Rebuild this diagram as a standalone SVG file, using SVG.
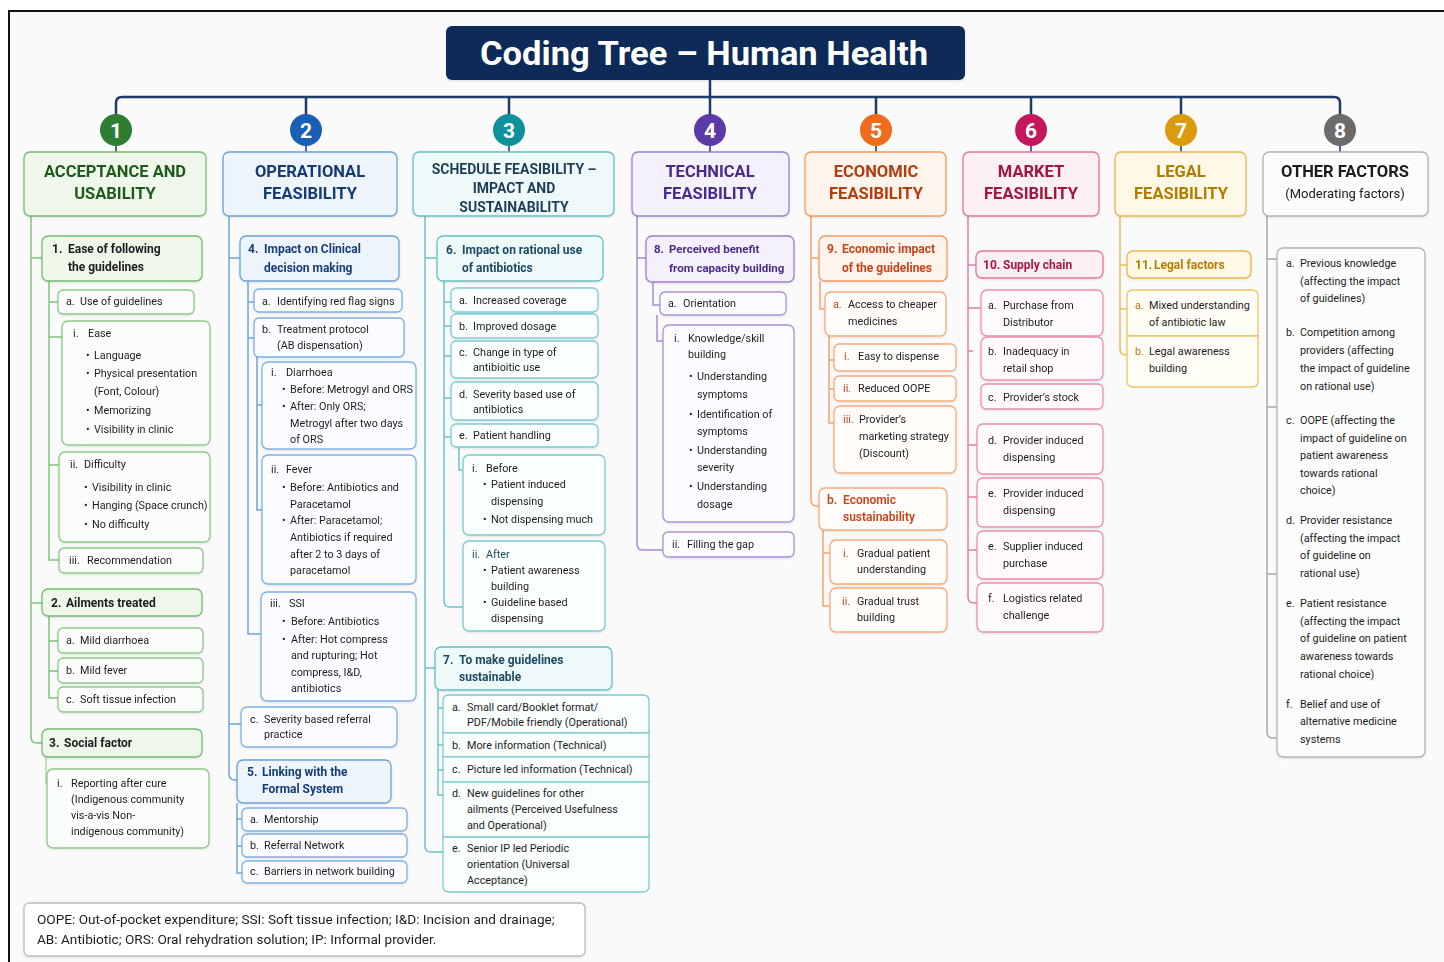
<svg xmlns="http://www.w3.org/2000/svg" width="1444" height="962" viewBox="0 0 1444 962">
<defs>
<style>
text{font-family:Roboto,"Liberation Sans",Arial,sans-serif;font-size:10.8px;fill:#1d1d1d}
.hd{font-size:12px;font-weight:700}
.cat{font-size:16.5px;font-weight:700;text-anchor:middle}
.num{font-size:21px;font-weight:700;fill:#fff;text-anchor:middle}
.c{fill:none;stroke-width:1.5}
rect,path.bx{stroke-width:1.3}
.gB{fill:#fbfdfa;stroke:#8dca8a}.gH{fill:#eef7ea;stroke:#72bd6f}.gC{stroke:#7fc27c}
.bB{fill:#fafcff;stroke:#7fb0e0}.bH{fill:#edf4fc;stroke:#6aa2da}.bC{stroke:#6fa5da}
.tB{fill:#fafefe;stroke:#7ccbd0}.tH{fill:#eef9fa;stroke:#62c0c6}.tC{stroke:#6cc3c9}
.pB{fill:#fcfbff;stroke:#a993d8}.pH{fill:#f4f0fc;stroke:#9a80d0}.pC{stroke:#a48cd6}
.oB{fill:#fffcfa;stroke:#f6ab78}.oH{fill:#fff4ec;stroke:#f49a5e}.oC{stroke:#f5a36b}
.mB{fill:#fffbfc;stroke:#ec8fb0}.mH{fill:#fdf0f4;stroke:#e2779d}.mC{stroke:#e47fa4}
.yB{fill:#fffdf6;stroke:#ecc363}.yH{fill:#fff8e6;stroke:#e8b84a}.yC{stroke:#e9bd58}
.kB{fill:#fcfcfc;stroke:#b3b3b3}.kC{stroke:#a8a8a8}
.gT{fill:#1f5a1f}.bT{fill:#163d78}.tT{fill:#1d4a63}.pT{fill:#4b2c8a}.oT{fill:#c9431a}.mT{fill:#ad1446}.yT{fill:#b37e00}
.cg{fill:#1f5a1f}.cb{fill:#163a72}.ct{fill:#1e3d55}.cp{fill:#4a2c87}.co{fill:#b23c0f}.cm{fill:#a3123e}.cy{fill:#b07d00}.ck{fill:#1a1a1a}
</style>
<filter id="sh" x="-10%" y="-10%" width="120%" height="130%">
<feDropShadow dx="0" dy="1" stdDeviation="1.2" flood-color="#000" flood-opacity="0.10"/>
</filter>
<linearGradient id="fadeG" x1="0" x2="1" y1="0" y2="0">
<stop offset="0" stop-color="#7fc27c"/><stop offset="1" stop-color="#7fc27c" stop-opacity="0"/>
</linearGradient>
</defs>

<!-- page background and frame -->
<rect x="0" y="0" width="1444" height="962" fill="#ffffff" stroke="none"/>
<rect x="9" y="11" width="1435" height="951" fill="#fafafb" stroke="none"/>
<path d="M9,962 V11 H1444" fill="none" stroke="#111" stroke-width="2"/>

<!-- connectors -->
<g id="connectors">
  <g fill="none" stroke="#1e3a66" stroke-width="2.5">
    <path d="M116,115 V103 Q116,97 122,97 H1334 Q1340,97 1340,103 V115"/>
    <path d="M710,80 V115"/>
    <path d="M306,97 V115 M509,97 V115 M876,97 V115 M1031,97 V115 M1181,97 V115"/>
    <path d="M116,145 V152 M306,145 V152 M509,145 V152 M710,145 V152 M876,145 V152 M1031,145 V152 M1181,145 V152 M1340,145 V152" stroke-width="1.5"/>
  </g>
  <!-- acceptance and usability -->
  <g class="c gC">
    <path d="M31,216 V737 Q31,743 37,743 H42"/>
    <path d="M31,258 H42 M31,603 H42"/>
    <path d="M49,281 V560 H59 M49,302 H58 M49,337 H62 M49,465 H59"/>
    <path d="M49,616 V698 H58 M49,641 H58 M49,671 H58"/>
    <path d="M46,757 V783 H47" stroke-opacity="0.6"/>
  </g>
  <path d="M31,224 H130" stroke="url(#fadeG)" stroke-width="1.5" fill="none"/>
  <!-- operational feasibility -->
  <g class="c bC">
    <path d="M229,216 V774 Q229,780 235,780 H237"/>
    <path d="M229,258 H240 M229,724 H241"/>
    <path d="M248,281 V634 H261 M248,302 H254 M248,338 H254"/>
    <path d="M257,357 V510 H262 M257,405 H262"/>
    <path d="M237,803 V873 H242 M237,819 H242 M237,846 H242"/>
  </g>
  <!-- schedule feasibility -->
  <g class="c tC">
    <path d="M425,216 V846 Q425,852 431,852 H443"/>
    <path d="M425,258 H437 M425,668 H435"/>
    <path d="M444,281 V601 Q444,607 450,607 H463 M444,302 H451 M444,326 H451 M444,356 H451 M444,398 H451 M444,437 H451"/>
    <path d="M459,447 V470 H463"/>
    <path d="M438,690 V795 H443 M438,708 H443 M438,745 H443 M438,770 H443"/>
  </g>
  <!-- technical feasibility -->
  <g class="c pC">
    <path d="M637,216 V544 Q637,550 643,550 H663"/>
    <path d="M637,258 H646"/>
    <path d="M653,282 V305 H660"/>
    <path d="M657,315 V341 H663"/>
  </g>
  <!-- economic feasibility -->
  <g class="c oC">
    <path d="M811,216 V500 Q811,506 817,506 H819"/>
    <path d="M811,258 H819"/>
    <path d="M820,281 V309 H825"/>
    <path d="M829,336 V423 H834 M829,360 H834 M829,389 H834"/>
    <path d="M823,530 V606 H830 M823,553 H830"/>
  </g>
  <!-- market feasibility -->
  <g class="c mC">
    <path d="M968,216 V597 Q968,603 974,603 H977"/>
    <path d="M968,265 H976 M968,308 H981 M968,351 H973 M968,445 H977 M968,497 H977 M968,550 H977"/>
  </g>
  <!-- legal feasibility -->
  <g class="c yC">
    <path d="M1120,216 V349 Q1120,355 1126,355 H1127"/>
    <path d="M1120,265 H1127 M1120,309 H1127"/>
  </g>
  <!-- other factors -->
  <g class="c kC">
    <path d="M1267,216 V732 Q1267,738 1273,738 H1277"/>
    <path d="M1267,259 H1277 M1267,407 H1277 M1267,574 H1277"/>
  </g>
</g>

<!-- title -->
<g id="title">
  <rect x="446" y="26" width="519" height="54" rx="6" fill="#0c2a58" stroke="none" filter="url(#sh)"/>
  <text x="480" y="65" textLength="448" lengthAdjust="spacingAndGlyphs" style="font-size:33px;font-weight:700;fill:#ffffff">Coding Tree – Human Health</text>
</g>

<!-- numbered markers -->
<g id="markers">
  <circle cx="116" cy="130" r="16" fill="#2e7d32"/><text class="num" x="116" y="138">1</text>
  <circle cx="306" cy="130" r="16" fill="#1a5fb4"/><text class="num" x="306" y="138">2</text>
  <circle cx="509" cy="130" r="16" fill="#0f9199"/><text class="num" x="509" y="138">3</text>
  <circle cx="710" cy="130" r="16" fill="#5e3aa8"/><text class="num" x="710" y="138">4</text>
  <circle cx="876" cy="130" r="16" fill="#f06b1c"/><text class="num" x="876" y="138">5</text>
  <circle cx="1031" cy="130" r="16" fill="#c4185a"/><text class="num" x="1031" y="138">6</text>
  <circle cx="1181" cy="130" r="16" fill="#dc9a0e"/><text class="num" x="1181" y="138">7</text>
  <circle cx="1340" cy="130" r="16" fill="#6b6b6b"/><text class="num" x="1340" y="138">8</text>
</g>

<!-- category headers -->
<g id="cat-1" filter="url(#sh)"><rect class="gH" x="24" y="152" width="182" height="64" rx="6"/>
  <text class="cat cg" x="115" y="177">ACCEPTANCE AND</text><text class="cat cg" x="115" y="199">USABILITY</text></g>
<g id="cat-2" filter="url(#sh)"><rect class="bH" x="223" y="152" width="174" height="64" rx="6"/>
  <text class="cat cb" x="310" y="177">OPERATIONAL</text><text class="cat cb" x="310" y="199">FEASIBILITY</text></g>
<g id="cat-3" filter="url(#sh)"><rect class="tH" x="413" y="152" width="201" height="64" rx="6"/>
  <text class="cat ct" x="514" y="174" style="font-size:14px">SCHEDULE FEASIBILITY –</text>
  <text class="cat ct" x="514" y="193" style="font-size:14px">IMPACT AND</text>
  <text class="cat ct" x="514" y="212" style="font-size:14px">SUSTAINABILITY</text></g>
<g id="cat-4" filter="url(#sh)"><rect class="pH" x="632" y="152" width="157" height="64" rx="6"/>
  <text class="cat cp" x="710" y="177">TECHNICAL</text><text class="cat cp" x="710" y="199">FEASIBILITY</text></g>
<g id="cat-5" filter="url(#sh)"><rect class="oH" x="805" y="152" width="141" height="64" rx="6"/>
  <text class="cat co" x="876" y="177">ECONOMIC</text><text class="cat co" x="876" y="199">FEASIBILITY</text></g>
<g id="cat-6" filter="url(#sh)"><rect class="mH" x="963" y="152" width="136" height="64" rx="6"/>
  <text class="cat cm" x="1031" y="177">MARKET</text><text class="cat cm" x="1031" y="199">FEASIBILITY</text></g>
<g id="cat-7" filter="url(#sh)"><rect class="yH" x="1115" y="152" width="131" height="64" rx="6"/>
  <text class="cat cy" x="1181" y="177">LEGAL</text><text class="cat cy" x="1181" y="199">FEASIBILITY</text></g>
<g id="cat-8" filter="url(#sh)"><rect class="kB" x="1263" y="152" width="165" height="64" rx="6"/>
  <text class="cat ck" x="1345" y="177">OTHER FACTORS</text><text class="ck" x="1345" y="198" text-anchor="middle" style="font-size:13px">(Moderating factors)</text></g>

<!-- 1. acceptance and usability -->
<g id="n1-1" filter="url(#sh)"><rect class="gH" x="42" y="236" width="160" height="45" rx="6"/>
  <text class="hd"><tspan x="52" y="253">1.</tspan><tspan x="68" y="253">Ease of following</tspan><tspan x="68" y="271">the guidelines</tspan></text></g>
<g id="n1-1a" filter="url(#sh)"><rect class="gB" x="58" y="290" width="136" height="24" rx="5"/>
  <text><tspan x="66" y="305">a.</tspan><tspan x="80" y="305">Use of guidelines</tspan></text></g>
<g id="n1-1a-i" filter="url(#sh)"><rect class="gB" x="62" y="321" width="148" height="124" rx="6"/>
  <text><tspan x="73" y="337">i.</tspan><tspan x="88" y="337">Ease</tspan>
  <tspan x="86" y="359">•</tspan><tspan x="94" y="359">Language</tspan>
  <tspan x="86" y="377">•</tspan><tspan x="94" y="377">Physical presentation</tspan>
  <tspan x="94" y="395">(Font, Colour)</tspan>
  <tspan x="86" y="414">•</tspan><tspan x="94" y="414">Memorizing</tspan>
  <tspan x="86" y="433">•</tspan><tspan x="94" y="433">Visibility in clinic</tspan></text></g>
<g id="n1-1a-ii" filter="url(#sh)"><rect class="gB" x="59" y="452" width="151" height="90" rx="6"/>
  <text><tspan x="70" y="468">ii.</tspan><tspan x="84" y="468">Difficulty</tspan>
  <tspan x="84" y="491">•</tspan><tspan x="92" y="491">Visibility in clinic</tspan>
  <tspan x="84" y="509">•</tspan><tspan x="92" y="509">Hanging (Space crunch)</tspan>
  <tspan x="84" y="528">•</tspan><tspan x="92" y="528">No difficulty</tspan></text></g>
<g id="n1-1a-iii" filter="url(#sh)"><rect class="gB" x="59" y="548" width="144" height="25" rx="5"/>
  <text><tspan x="69" y="564">iii.</tspan><tspan x="87" y="564">Recommendation</tspan></text></g>
<g id="n1-2" filter="url(#sh)"><rect class="gH" x="42" y="589" width="160" height="27" rx="6"/>
  <text class="hd"><tspan x="51" y="607">2.</tspan><tspan x="66" y="607">Ailments treated</tspan></text></g>
<g id="n1-2a" filter="url(#sh)"><rect class="gB" x="58" y="628" width="145" height="25" rx="5"/>
  <text><tspan x="66" y="644">a.</tspan><tspan x="80" y="644">Mild diarrhoea</tspan></text></g>
<g id="n1-2b" filter="url(#sh)"><rect class="gB" x="58" y="658" width="145" height="25" rx="5"/>
  <text><tspan x="66" y="674">b.</tspan><tspan x="80" y="674">Mild fever</tspan></text></g>
<g id="n1-2c" filter="url(#sh)"><rect class="gB" x="58" y="687" width="145" height="25" rx="5"/>
  <text><tspan x="66" y="703">c.</tspan><tspan x="80" y="703">Soft tissue infection</tspan></text></g>
<g id="n1-3" filter="url(#sh)"><rect class="gH" x="42" y="729" width="160" height="28" rx="6"/>
  <text class="hd"><tspan x="49" y="747">3.</tspan><tspan x="64" y="747">Social factor</tspan></text></g>
<g id="n1-3i" filter="url(#sh)"><rect class="gB" x="47" y="769" width="162" height="79" rx="6"/>
  <text><tspan x="57" y="787">i.</tspan><tspan x="71" y="787">Reporting after cure</tspan>
  <tspan x="71" y="803">(Indigenous community</tspan>
  <tspan x="71" y="819">vis-a-vis Non-</tspan>
  <tspan x="71" y="835">indigenous community)</tspan></text></g>

<!-- 2. operational feasibility -->
<g id="n2-4" filter="url(#sh)"><rect class="bH" x="240" y="236" width="159" height="45" rx="6"/>
  <text class="hd bT"><tspan x="248" y="253">4.</tspan><tspan x="264" y="253">Impact on Clinical</tspan><tspan x="264" y="272">decision making</tspan></text></g>
<g id="n2-4a" filter="url(#sh)"><rect class="bB" x="254" y="289" width="148" height="23" rx="5"/>
  <text><tspan x="262" y="305">a.</tspan><tspan x="277" y="305">Identifying red flag signs</tspan></text></g>
<g id="n2-4b" filter="url(#sh)"><rect class="bB" x="254" y="318" width="150" height="39" rx="5"/>
  <text><tspan x="262" y="333">b.</tspan><tspan x="277" y="333">Treatment protocol</tspan><tspan x="277" y="349">(AB dispensation)</tspan></text></g>
<g id="n2-4b-i" filter="url(#sh)"><rect class="bB" x="262" y="362" width="154" height="87" rx="6"/>
  <text><tspan x="271" y="376">i.</tspan><tspan x="286" y="376">Diarrhoea</tspan>
  <tspan x="282" y="393">•</tspan><tspan x="290" y="393">Before: Metrogyl and ORS</tspan>
  <tspan x="282" y="410">•</tspan><tspan x="290" y="410">After: Only ORS;</tspan>
  <tspan x="290" y="427">Metrogyl after two days</tspan>
  <tspan x="290" y="443">of ORS</tspan></text></g>
<g id="n2-4b-ii" filter="url(#sh)"><rect class="bB" x="262" y="455" width="154" height="129" rx="6"/>
  <text><tspan x="271" y="473">ii.</tspan><tspan x="286" y="473">Fever</tspan>
  <tspan x="282" y="491">•</tspan><tspan x="290" y="491">Before: Antibiotics and</tspan>
  <tspan x="290" y="508">Paracetamol</tspan>
  <tspan x="282" y="524">•</tspan><tspan x="290" y="524">After: Paracetamol;</tspan>
  <tspan x="290" y="541">Antibiotics if required</tspan>
  <tspan x="290" y="558">after 2 to 3 days of</tspan>
  <tspan x="290" y="574">paracetamol</tspan></text></g>
<g id="n2-4b-iii" filter="url(#sh)"><rect class="bB" x="261" y="592" width="155" height="109" rx="6"/>
  <text><tspan x="270" y="607">iii.</tspan><tspan x="289" y="607">SSI</tspan>
  <tspan x="282" y="625">•</tspan><tspan x="291" y="625">Before: Antibiotics</tspan>
  <tspan x="282" y="643">•</tspan><tspan x="291" y="643">After: Hot compress</tspan>
  <tspan x="291" y="659">and rupturing; Hot</tspan>
  <tspan x="291" y="676">compress, I&amp;D,</tspan>
  <tspan x="291" y="692">antibiotics</tspan></text></g>
<g id="n2-4c" filter="url(#sh)"><rect class="bB" x="241" y="707" width="156" height="40" rx="6"/>
  <text><tspan x="250" y="723">c.</tspan><tspan x="264" y="723">Severity based referral</tspan><tspan x="264" y="738">practice</tspan></text></g>
<g id="n2-5" filter="url(#sh)"><rect class="bH" x="237" y="760" width="154" height="43" rx="6"/>
  <text class="hd bT"><tspan x="247" y="776">5.</tspan><tspan x="262" y="776">Linking with the</tspan><tspan x="262" y="793">Formal System</tspan></text></g>
<g id="n2-5a" filter="url(#sh)"><rect class="bB" x="242" y="808" width="165" height="23" rx="5"/>
  <text><tspan x="250" y="823">a.</tspan><tspan x="264" y="823">Mentorship</tspan></text></g>
<g id="n2-5b" filter="url(#sh)"><rect class="bB" x="242" y="834" width="165" height="23" rx="5"/>
  <text><tspan x="250" y="849">b.</tspan><tspan x="264" y="849">Referral Network</tspan></text></g>
<g id="n2-5c" filter="url(#sh)"><rect class="bB" x="242" y="861" width="165" height="22" rx="5"/>
  <text><tspan x="250" y="875">c.</tspan><tspan x="264" y="875">Barriers in network building</tspan></text></g>

<!-- 3. schedule feasibility -->
<g id="n3-6" filter="url(#sh)"><rect class="tH" x="437" y="236" width="166" height="45" rx="6"/>
  <text class="hd tT"><tspan x="446" y="254">6.</tspan><tspan x="462" y="254">Impact on rational use</tspan><tspan x="462" y="272">of antibiotics</tspan></text></g>
<g id="n3-6a" filter="url(#sh)"><rect class="tB" x="451" y="288" width="147" height="24" rx="5"/>
  <text><tspan x="459" y="304">a.</tspan><tspan x="473" y="304">Increased coverage</tspan></text></g>
<g id="n3-6b" filter="url(#sh)"><rect class="tB" x="451" y="314" width="147" height="24" rx="5"/>
  <text><tspan x="459" y="330">b.</tspan><tspan x="473" y="330">Improved dosage</tspan></text></g>
<g id="n3-6c" filter="url(#sh)"><rect class="tB" x="451" y="341" width="147" height="37" rx="5"/>
  <text><tspan x="459" y="356">c.</tspan><tspan x="473" y="356">Change in type of</tspan><tspan x="473" y="371">antibioitic use</tspan></text></g>
<g id="n3-6d" filter="url(#sh)"><rect class="tB" x="451" y="382" width="147" height="38" rx="5"/>
  <text><tspan x="459" y="398">d.</tspan><tspan x="473" y="398">Severity based use of</tspan><tspan x="473" y="413">antibiotics</tspan></text></g>
<g id="n3-6e" filter="url(#sh)"><rect class="tB" x="451" y="424" width="147" height="23" rx="5"/>
  <text><tspan x="459" y="439">e.</tspan><tspan x="473" y="439">Patient handling</tspan></text></g>
<g id="n3-6e-i" filter="url(#sh)"><rect class="tB" x="463" y="455" width="142" height="80" rx="6"/>
  <text><tspan x="472" y="472">i.</tspan><tspan x="486" y="472">Before</tspan>
  <tspan x="483" y="488">•</tspan><tspan x="491" y="488">Patient induced</tspan>
  <tspan x="491" y="505">dispensing</tspan>
  <tspan x="483" y="523">•</tspan><tspan x="491" y="523">Not dispensing much</tspan></text></g>
<g id="n3-6e-ii" filter="url(#sh)"><rect class="tB" x="463" y="541" width="142" height="90" rx="6"/>
  <text><tspan x="472" y="558" class="tT">ii.</tspan><tspan x="486" y="558" class="tT">After</tspan>
  <tspan x="483" y="574">•</tspan><tspan x="491" y="574">Patient awareness</tspan>
  <tspan x="491" y="590">building</tspan>
  <tspan x="483" y="606">•</tspan><tspan x="491" y="606">Guideline based</tspan>
  <tspan x="491" y="622">dispensing</tspan></text></g>
<g id="n3-7" filter="url(#sh)"><rect class="tH" x="435" y="647" width="177" height="43" rx="6"/>
  <text class="hd tT"><tspan x="443" y="664">7.</tspan><tspan x="459" y="664">To make guidelines</tspan><tspan x="459" y="681">sustainable</tspan></text></g>
<g id="n3-7a"><path class="bx tB" d="M443,733 V701 Q443,695 449,695 H643 Q649,695 649,701 V733 Z"/>
  <text><tspan x="452" y="711">a.</tspan><tspan x="467" y="711">Small card/Booklet format/</tspan><tspan x="467" y="726">PDF/Mobile friendly (Operational)</tspan></text></g>
<g id="n3-7b"><rect class="tB" x="443" y="733" width="206" height="24"/>
  <text><tspan x="452" y="749">b.</tspan><tspan x="467" y="749">More information (Technical)</tspan></text></g>
<g id="n3-7c"><rect class="tB" x="443" y="757" width="206" height="25"/>
  <text><tspan x="452" y="773">c.</tspan><tspan x="467" y="773">Picture led information (Technical)</tspan></text></g>
<g id="n3-7d"><rect class="tB" x="443" y="782" width="206" height="55"/>
  <text><tspan x="452" y="797">d.</tspan><tspan x="467" y="797">New guidelines for other</tspan><tspan x="467" y="813">ailments (Perceived Usefulness</tspan><tspan x="467" y="829">and Operational)</tspan></text></g>
<g id="n3-7e"><path class="bx tB" d="M443,837 H649 V886 Q649,892 643,892 H449 Q443,892 443,886 Z"/>
  <text><tspan x="452" y="852">e.</tspan><tspan x="467" y="852">Senior IP led Periodic</tspan><tspan x="467" y="868">orientation (Universal</tspan><tspan x="467" y="884">Acceptance)</tspan></text></g>

<!-- 4. technical feasibility -->
<g id="n4-8" filter="url(#sh)"><rect class="pH" x="646" y="236" width="148" height="46" rx="6"/>
  <text class="hd pT" style="font-size:11.5px"><tspan x="654" y="253">8.</tspan><tspan x="669" y="253">Perceived benefit</tspan><tspan x="669" y="272">from capacity building</tspan></text></g>
<g id="n4-8a" filter="url(#sh)"><rect class="pB" x="660" y="292" width="126" height="23" rx="5"/>
  <text><tspan x="668" y="307">a.</tspan><tspan x="683" y="307">Orientation</tspan></text></g>
<g id="n4-8a-i" filter="url(#sh)"><rect class="pB" x="663" y="325" width="131" height="197" rx="6"/>
  <text><tspan x="674" y="342">i.</tspan><tspan x="688" y="342">Knowledge/skill</tspan><tspan x="688" y="358">building</tspan>
  <tspan x="689" y="380">•</tspan><tspan x="697" y="380">Understanding</tspan><tspan x="697" y="398">symptoms</tspan>
  <tspan x="689" y="418">•</tspan><tspan x="697" y="418">Identification of</tspan><tspan x="697" y="435">symptoms</tspan>
  <tspan x="689" y="454">•</tspan><tspan x="697" y="454">Understanding</tspan><tspan x="697" y="471">severity</tspan>
  <tspan x="689" y="490">•</tspan><tspan x="697" y="490">Understanding</tspan><tspan x="697" y="508">dosage</tspan></text></g>
<g id="n4-8a-ii" filter="url(#sh)"><rect class="pB" x="663" y="532" width="131" height="25" rx="5"/>
  <text><tspan x="672" y="548">ii.</tspan><tspan x="687" y="548">Filling the gap</tspan></text></g>

<!-- 5. economic feasibility -->
<g id="n5-9" filter="url(#sh)"><rect class="oH" x="819" y="236" width="128" height="45" rx="6"/>
  <text class="hd oT"><tspan x="827" y="253">9.</tspan><tspan x="842" y="253">Economic impact</tspan><tspan x="842" y="272">of the guidelines</tspan></text></g>
<g id="n5-9a" filter="url(#sh)"><rect class="oB" x="825" y="292" width="121" height="44" rx="6"/>
  <text><tspan x="833" y="308" class="oT">a.</tspan><tspan x="848" y="308">Access to cheaper</tspan><tspan x="848" y="325">medicines</tspan></text></g>
<g id="n5-9a-i" filter="url(#sh)"><rect class="oB" x="834" y="344" width="122" height="27" rx="5"/>
  <text><tspan x="844" y="360" class="oT">i.</tspan><tspan x="858" y="360">Easy to dispense</tspan></text></g>
<g id="n5-9a-ii" filter="url(#sh)"><rect class="oB" x="834" y="376" width="122" height="25" rx="5"/>
  <text><tspan x="843" y="392" class="oT">ii.</tspan><tspan x="858" y="392">Reduced OOPE</tspan></text></g>
<g id="n5-9a-iii" filter="url(#sh)"><rect class="oB" x="834" y="406" width="122" height="67" rx="6"/>
  <text><tspan x="843" y="423" class="oT">iii.</tspan><tspan x="859" y="423">Provider’s</tspan><tspan x="859" y="440">marketing strategy</tspan><tspan x="859" y="457">(Discount)</tspan></text></g>
<g id="n5-9b" filter="url(#sh)"><rect class="oB" x="819" y="488" width="128" height="42" rx="6"/>
  <text class="hd oT" style="font-weight:600"><tspan x="827" y="504">b.</tspan><tspan x="843" y="504">Economic</tspan><tspan x="843" y="521">sustainability</tspan></text></g>
<g id="n5-9b-i" filter="url(#sh)"><rect class="oB" x="830" y="540" width="117" height="44" rx="6"/>
  <text><tspan x="843" y="557" class="oT">i.</tspan><tspan x="857" y="557">Gradual patient</tspan><tspan x="857" y="573">understanding</tspan></text></g>
<g id="n5-9b-ii" filter="url(#sh)"><rect class="oB" x="830" y="588" width="117" height="44" rx="6"/>
  <text><tspan x="842" y="605" class="oT">ii.</tspan><tspan x="857" y="605">Gradual trust</tspan><tspan x="857" y="621">building</tspan></text></g>

<!-- 6. market feasibility -->
<g id="n6-10" filter="url(#sh)"><rect class="mH" x="976" y="251" width="127" height="27" rx="6"/>
  <text class="hd mT"><tspan x="983" y="269">10.</tspan><tspan x="1003" y="269">Supply chain</tspan></text></g>
<g id="n6-10a" filter="url(#sh)"><rect class="mB" x="981" y="290" width="122" height="46" rx="6"/>
  <text><tspan x="988" y="309">a.</tspan><tspan x="1003" y="309">Purchase from</tspan><tspan x="1003" y="326">Distributor</tspan></text></g>
<g id="n6-10b" filter="url(#sh)"><rect class="mB" x="981" y="337" width="122" height="43" rx="6"/>
  <text><tspan x="988" y="355">b.</tspan><tspan x="1003" y="355">Inadequacy in</tspan><tspan x="1003" y="372">retail shop</tspan></text></g>
<g id="n6-10c" filter="url(#sh)"><rect class="mB" x="981" y="384" width="122" height="25" rx="5"/>
  <text><tspan x="988" y="401">c.</tspan><tspan x="1003" y="401">Provider’s stock</tspan></text></g>
<g id="n6-10d" filter="url(#sh)"><rect class="mB" x="977" y="424" width="126" height="50" rx="6"/>
  <text><tspan x="988" y="444">d.</tspan><tspan x="1003" y="444">Provider induced</tspan><tspan x="1003" y="461">dispensing</tspan></text></g>
<g id="n6-10e" filter="url(#sh)"><rect class="mB" x="977" y="478" width="126" height="49" rx="6"/>
  <text><tspan x="988" y="497">e.</tspan><tspan x="1003" y="497">Provider induced</tspan><tspan x="1003" y="514">dispensing</tspan></text></g>
<g id="n6-10e2" filter="url(#sh)"><rect class="mB" x="977" y="531" width="126" height="48" rx="6"/>
  <text><tspan x="988" y="550">e.</tspan><tspan x="1003" y="550">Supplier induced</tspan><tspan x="1003" y="567">purchase</tspan></text></g>
<g id="n6-10f" filter="url(#sh)"><rect class="mB" x="977" y="583" width="126" height="49" rx="6"/>
  <text><tspan x="988" y="602">f.</tspan><tspan x="1003" y="602">Logistics related</tspan><tspan x="1003" y="619">challenge</tspan></text></g>

<!-- 7. legal feasibility -->
<g id="n7-11" filter="url(#sh)"><rect class="yH" x="1127" y="251" width="124" height="27" rx="6"/>
  <text class="hd yT"><tspan x="1135" y="269">11.</tspan><tspan x="1154" y="269">Legal factors</tspan></text></g>
<g id="n7-11a"><path class="bx yB" d="M1127,336 V296 Q1127,290 1133,290 H1252 Q1258,290 1258,296 V336 Z"/>
  <text><tspan x="1135" y="309" class="yT">a.</tspan><tspan x="1149" y="309">Mixed understanding</tspan><tspan x="1149" y="326">of antibiotic law</tspan></text></g>
<g id="n7-11b"><path class="bx yB" d="M1127,336 H1258 V381 Q1258,387 1252,387 H1133 Q1127,387 1127,381 Z"/>
  <text><tspan x="1135" y="355" class="yT">b.</tspan><tspan x="1149" y="355">Legal awareness</tspan><tspan x="1149" y="372">building</tspan></text></g>

<!-- 8. other factors -->
<g id="n8-box" filter="url(#sh)"><rect class="kB" x="1277" y="248" width="148" height="509" rx="6"/></g>
<g id="n8-a"><text><tspan x="1286" y="267">a.</tspan><tspan x="1300" y="267">Previous knowledge</tspan><tspan x="1300" y="285">(affecting the impact</tspan><tspan x="1300" y="302">of guidelines)</tspan></text></g>
<g id="n8-b"><text><tspan x="1286" y="336">b.</tspan><tspan x="1300" y="336">Competition among</tspan><tspan x="1300" y="354">providers (affecting</tspan><tspan x="1300" y="372">the impact of guideline</tspan><tspan x="1300" y="390">on rational use)</tspan></text></g>
<g id="n8-c"><text><tspan x="1286" y="424">c.</tspan><tspan x="1300" y="424">OOPE (affecting the</tspan><tspan x="1300" y="442">impact of guideline on</tspan><tspan x="1300" y="459">patient awareness</tspan><tspan x="1300" y="477">towards rational</tspan><tspan x="1300" y="494">choice)</tspan></text></g>
<g id="n8-d"><text><tspan x="1286" y="524">d.</tspan><tspan x="1300" y="524">Provider resistance</tspan><tspan x="1300" y="542">(affecting the impact</tspan><tspan x="1300" y="559">of guideline on</tspan><tspan x="1300" y="577">rational use)</tspan></text></g>
<g id="n8-e"><text><tspan x="1286" y="607">e.</tspan><tspan x="1300" y="607">Patient resistance</tspan><tspan x="1300" y="625">(affecting the impact</tspan><tspan x="1300" y="642">of guideline on patient</tspan><tspan x="1300" y="660">awareness towards</tspan><tspan x="1300" y="678">rational choice)</tspan></text></g>
<g id="n8-f"><text><tspan x="1286" y="708">f.</tspan><tspan x="1300" y="708">Belief and use of</tspan><tspan x="1300" y="725">alternative medicine</tspan><tspan x="1300" y="743">systems</tspan></text></g>

<!-- abbreviations -->
<g id="legend" filter="url(#sh)"><rect x="24" y="903" width="561" height="53" rx="5" fill="#ffffff" stroke="#bdbdbd"/>
  <text style="font-size:13.6px"><tspan x="37" y="924">OOPE: Out-of-pocket expenditure; SSI: Soft tissue infection; I&amp;D: Incision and drainage;</tspan><tspan x="37" y="944">AB: Antibiotic; ORS: Oral rehydration solution; IP: Informal provider.</tspan></text></g>
</svg>
